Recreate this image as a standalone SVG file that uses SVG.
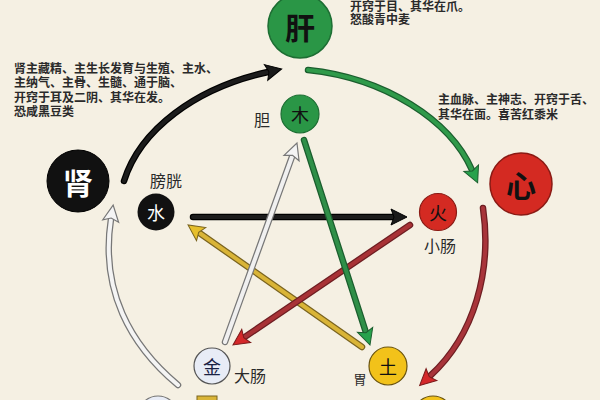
<svg xmlns="http://www.w3.org/2000/svg" xmlns:xlink="http://www.w3.org/1999/xlink" width="600" height="400" viewBox="0 0 600 400">
<style>
.t{font-family:"Liberation Sans","Noto Sans CJK SC",sans-serif;font-size:12px;font-weight:bold;fill:#2a2a2a}
.lb{font-family:"Liberation Sans","Noto Sans CJK SC",sans-serif;font-size:16px;fill:#2a2a2a;text-anchor:middle}
.big{font-family:"Noto Sans CJK SC",sans-serif;font-size:30px;font-weight:bold;text-anchor:middle;dominant-baseline:central}
.sm{font-family:"Noto Sans CJK SC",sans-serif;font-size:18px;text-anchor:middle;dominant-baseline:central}
.o{fill:none;stroke-linecap:round;stroke-width:6.5}
.i{fill:none;stroke-linecap:round;stroke-width:4}
</style>
<defs>
<marker id="mk" markerUnits="userSpaceOnUse" viewBox="-2 -10 20 20" markerWidth="20" markerHeight="20" refX="2" refY="0" orient="auto" overflow="visible"><polygon points="0,-8 16,0 0,8 3,0" fill="#1a1a1a" stroke="#000" stroke-width="1"/></marker>
<marker id="mg" markerUnits="userSpaceOnUse" viewBox="-2 -10 20 20" markerWidth="20" markerHeight="20" refX="2" refY="0" orient="auto" overflow="visible"><polygon points="0,-8 16,0 0,8 3,0" fill="#27a24c" stroke="#1b5e2e" stroke-width="1"/></marker>
<marker id="mr" markerUnits="userSpaceOnUse" viewBox="-2 -10 20 20" markerWidth="20" markerHeight="20" refX="2" refY="0" orient="auto" overflow="visible"><polygon points="0,-8 16,0 0,8 3,0" fill="#d4282a" stroke="#7a1a1a" stroke-width="1"/></marker>
<marker id="mw" markerUnits="userSpaceOnUse" viewBox="-2 -10 20 20" markerWidth="20" markerHeight="20" refX="2" refY="0" orient="auto" overflow="visible"><polygon points="0,-8 16,0 0,8 3,0" fill="#f4f4f4" stroke="#777" stroke-width="1.2"/></marker>
<marker id="my" markerUnits="userSpaceOnUse" viewBox="-2 -10 20 20" markerWidth="20" markerHeight="20" refX="2" refY="0" orient="auto" overflow="visible"><polygon points="0,-8 16,0 0,8 3,0" fill="#e6bf2c" stroke="#7a6420" stroke-width="1"/></marker>
<path id="p1" d="M124,181 C140,130 195,88 268,72"/>
<path id="p2" d="M308,70 C385,78 450,120 472,170"/>
<path id="p3" d="M483,208 C492,270 475,335 430,376"/>
<path id="p4" d="M178,385 C130,345 100,290 111,219"/>
<path id="p5" d="M193,217 L393,217"/>
<path id="p6" d="M362,347 L199.5,233"/>
<path id="p7" d="M410,225 L244.6,337.1"/>
<path id="p8" d="M304,140 L365.7,331.7"/>
<path id="p9" d="M225,342 L292.2,156.2"/>
</defs>
<rect width="600" height="400" fill="#f5f0e3"/>

<g id="connectors">
<use xlink:href="#p1" class="o" stroke="#000"/><use xlink:href="#p1" class="i" stroke="#1c1c1c" marker-end="url(#mk)"/>
<use xlink:href="#p2" class="o" stroke="#1b5e2e"/><use xlink:href="#p2" class="i" stroke="#2f9a4a" marker-end="url(#mg)"/>
<use xlink:href="#p3" class="o" stroke="#6e1e22"/><use xlink:href="#p3" class="i" stroke="#a8343a" marker-end="url(#mr)"/>
<use xlink:href="#p4" class="o" stroke="#777"/><use xlink:href="#p4" class="i" stroke="#f4f4f4" marker-end="url(#mw)"/>
<use xlink:href="#p5" class="o" stroke="#000"/><use xlink:href="#p5" class="i" stroke="#1c1c1c" marker-end="url(#mk)"/>
<use xlink:href="#p6" class="o" stroke="#7a6420"/><use xlink:href="#p6" class="i" stroke="#d9b437" marker-end="url(#my)"/>
<use xlink:href="#p7" class="o" stroke="#6e1e22"/><use xlink:href="#p7" class="i" stroke="#a83236" marker-end="url(#mr)"/>
<use xlink:href="#p8" class="o" stroke="#1b5e2e"/><use xlink:href="#p8" class="i" stroke="#2f8f48" marker-end="url(#mg)"/>
<use xlink:href="#p9" class="o" stroke="#777"/><use xlink:href="#p9" class="i" stroke="#f0f0f0" marker-end="url(#mw)"/>
</g>

<g id="gan"><circle cx="300" cy="26" r="32" fill="#2a9646" stroke="#1d6e33" stroke-width="1.5"/><text class="big" x="300" y="26" fill="#111">肝</text></g>
<g id="xin"><circle cx="521" cy="184" r="31" fill="#d42a22" stroke="#8a1a14" stroke-width="1.5"/><text class="big" x="521" y="184" fill="#111">心</text></g>
<g id="shen"><circle cx="78" cy="181" r="31" fill="#111" stroke="#000" stroke-width="1"/><text class="big" x="78" y="181" fill="#fff">肾</text></g>
<g id="mu"><circle cx="300" cy="114" r="19" fill="#2a9646" stroke="#1d6e33" stroke-width="1.2"/><text class="sm" x="300" y="114" fill="#111">木</text></g>
<g id="shui"><circle cx="156" cy="212" r="18.5" fill="#111"/><text class="sm" x="156" y="212" fill="#fff">水</text></g>
<g id="huo"><circle cx="438" cy="212" r="18.5" fill="#d42a22" stroke="#8a1a14" stroke-width="1.2"/><text class="sm" x="438" y="212" fill="#111">火</text></g>
<g id="jin"><circle cx="212" cy="366" r="18" fill="#e8ecf6" stroke="#555" stroke-width="1.2"/><text class="sm" x="212" y="366" fill="#1a2244">金</text></g>
<g id="tu"><circle cx="388" cy="366" r="19" fill="#f2c21a" stroke="#6a5410" stroke-width="1.2"/><text class="sm" x="388" y="366" fill="#111">土</text></g>
<g id="fei"><circle cx="158" cy="416" r="20" fill="#e8ecf6" stroke="#777" stroke-width="1.2"/></g>
<g id="pi"><circle cx="433" cy="416" r="20" fill="#f2c21a" stroke="#6a5410" stroke-width="1.2"/><rect x="197" y="396" width="20" height="6" fill="#d9b437" stroke="#7a6420" stroke-width="1"/></g>

<g id="labels">
<text class="lb" x="262" y="126">胆</text>
<text class="lb" x="166" y="187">膀胱</text>
<text class="lb" x="440" y="252">小肠</text>
<text class="lb" x="250" y="382">大肠</text>
<text class="lb" x="360" y="384" style="font-size:13px">胃</text>
</g>

<g id="texts">
<text class="t" x="350" y="11">开窍于目、其华在爪。</text>
<text class="t" x="350" y="24">怒酸青中麦</text>
<text class="t" x="14" y="73">肾主藏精、主生长发育与生殖、主水、</text>
<text class="t" x="14" y="87">主纳气、主骨、生髓、通于脑、</text>
<text class="t" x="14" y="102">开窍于耳及二阴、其华在发。</text>
<text class="t" x="14" y="116">恐咸黑豆类</text>
<text class="t" x="438" y="104">主血脉、主神志、开窍于舌、</text>
<text class="t" x="438" y="119">其华在面。喜苦红黍米</text>
</g>
</svg>
